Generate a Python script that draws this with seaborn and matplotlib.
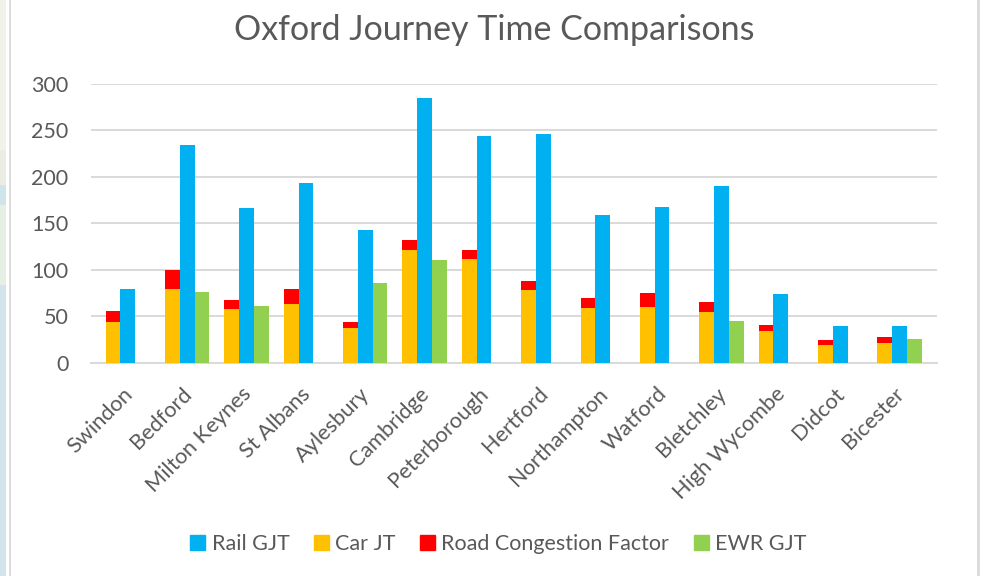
import numpy as np
import pandas as pd
import seaborn as sns
import matplotlib
matplotlib.use("Agg")
import matplotlib.pyplot as plt
from matplotlib.patches import Patch, Rectangle
from matplotlib.transforms import ScaledTranslation

towns = ["Swindon", "Bedford", "Milton Keynes", "St Albans", "Aylesbury", "Cambridge",
         "Peterborough", "Hertford", "Northampton", "Watford", "Bletchley",
         "High Wycombe", "Didcot", "Bicester"]
rail_gjt = [79, 234, 167, 193, 142.5, 284.5, 243.5, 245.5, 159, 168, 190, 74, 40, 40]
car_jt = [44, 79, 58, 63, 38, 121, 112, 78, 59, 60, 55, 34, 19, 22]
congestion = [12, 21, 10, 16, 6, 11, 9, 10, 11, 15, 10, 7, 6, 6]
ewr_gjt = [np.nan, 76, 61, np.nan, 86, 110.5, np.nan, np.nan, np.nan, np.nan, 45, np.nan, np.nan, 26]
y_ticks = [0, 50, 100, 150, 200, 250, 300]

BLUE, AMBER, RED, GREEN = "#00B0F0", "#FFC000", "#FF0000", "#92D050"
GREY = "#595959"
GRID = "#D9D9D9"

sns.set_theme(style="white")
plt.rcParams["font.family"] = ["Lato", "DejaVu Sans"]

n = len(towns)
slots = ["road", "rail", "ewr"]
total = np.array(car_jt) + np.array(congestion)
upper = pd.DataFrame({
    "town": towns * 3,
    "slot": np.repeat(slots, n),
    "value": np.concatenate([total, rail_gjt, ewr_gjt]),
})
lower = pd.DataFrame({
    "town": towns * 3,
    "slot": np.repeat(slots, n),
    "value": np.concatenate([car_jt, np.full(n, np.nan), np.full(n, np.nan)]),
})

fig = plt.figure(figsize=(9.86, 5.76), dpi=100, facecolor="white")
W, H = 986, 576
ax = fig.add_axes([90.6 / W, 1 - 363 / H, (936.7 - 90.6) / W, (363 - 83.7) / H])

sns.barplot(data=upper, x="town", y="value", hue="slot", hue_order=slots, order=towns,
            palette=[RED, BLUE, GREEN], width=0.748, gap=0, saturation=1,
            legend=False, errorbar=None, ax=ax, zorder=3, linewidth=0, edgecolor="none")
sns.barplot(data=lower, x="town", y="value", hue="slot", hue_order=slots, order=towns,
            palette=[AMBER, BLUE, GREEN], width=0.748, gap=0, saturation=1,
            legend=False, errorbar=None, ax=ax, zorder=4, linewidth=0, edgecolor="none")

ax.set_xlim(-0.628, n - 1 + 0.627)
ax.set_ylim(0, 300)
ax.set_yticks(y_ticks)
ax.set_xlabel("")
ax.set_ylabel("")
ax.yaxis.grid(True, color=GRID, linewidth=1.4, zorder=0)
ax.set_axisbelow(True)
for side in ["top", "right", "left"]:
    ax.spines[side].set_visible(False)
ax.spines["bottom"].set_color(GRID)
ax.spines["bottom"].set_linewidth(1.4)
ax.tick_params(axis="both", length=0, colors=GREY)
ax.tick_params(axis="y", labelsize=15.5, pad=16)
ax.set_xticks(range(n))
ax.set_xticklabels(towns, rotation=45, ha="right", rotation_mode="anchor",
                   fontsize=15.7, color=GREY)
ax.tick_params(axis="x", pad=15)
shift = ScaledTranslation(-4 / 72, 0, fig.dpi_scale_trans)
for label in ax.get_xticklabels():
    label.set_transform(label.get_transform() + shift)

fig.text(494 / W, 1 - 30.5 / H, "Oxford Journey Time Comparisons", ha="center", va="center",
         fontsize=24.5, color=GREY)

handles = [Patch(color=BLUE, label="Rail GJT"), Patch(color=AMBER, label="Car JT"),
           Patch(color=RED, label="Road Congestion Factor"), Patch(color=GREEN, label="EWR GJT")]
fig.legend(handles=handles, loc="center", bbox_to_anchor=(498.5 / W, 1 - 544 / H), ncol=4,
           frameon=False, fontsize=15.5, labelcolor=GREY, handlelength=0.68, handleheight=0.72,
           handletextpad=0.3, columnspacing=1.15)

# window frame and the sliver of map behind the chart
strips = [(0, 6, 0, 150, "#F1F2EA"), (0, 6, 150, 185, "#ECEBE4"), (0, 6, 185, 205, "#CFE5EA"),
          (0, 6, 205, 285, "#E6EFE4"), (0, 6, 285, 576, "#D2E5EC"),
          (9, 11, 0, 576, "#DCDCDC"), (977, 980, 0, 576, "#DCDCDC")]
for x0, x1, y0, y1, c in strips:
    fig.add_artist(Rectangle((x0 / W, 1 - y1 / H), (x1 - x0) / W, (y1 - y0) / H,
                             transform=fig.transFigure, color=c, lw=0))

fig.savefig("out.png", dpi=100, facecolor="white")
